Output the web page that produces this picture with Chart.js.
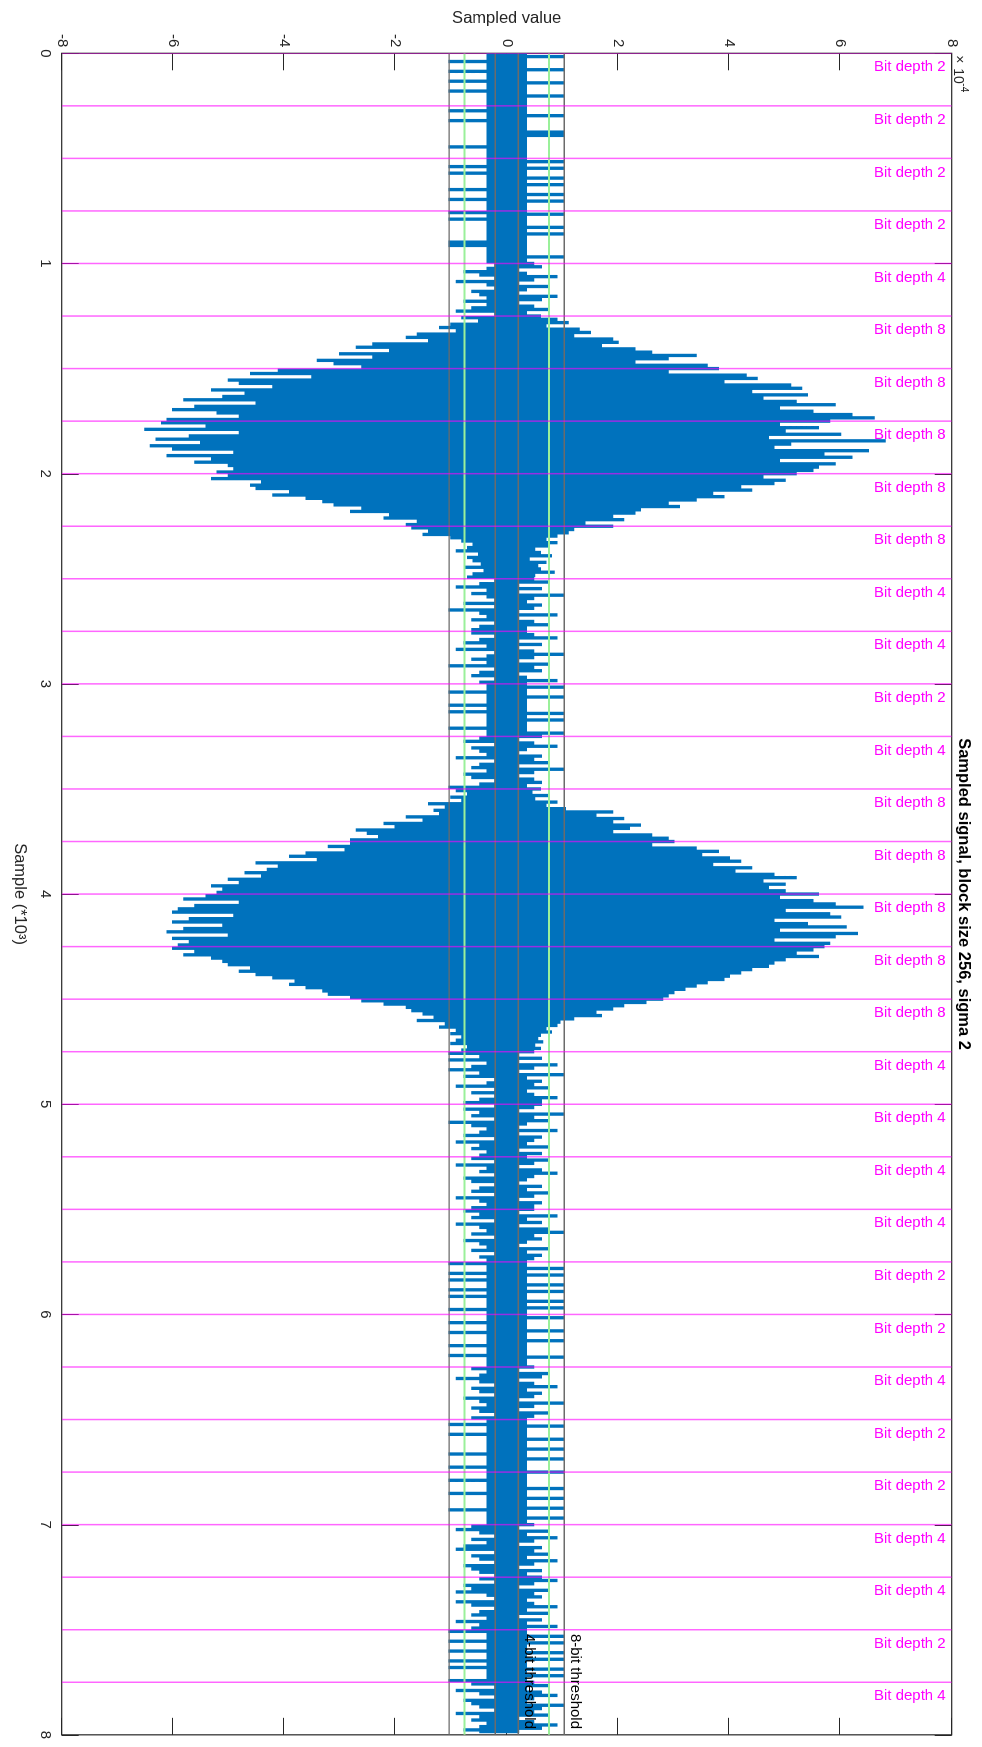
<!DOCTYPE html>
<html>
<head>
<meta charset="utf-8">
<script src="https://cdn.jsdelivr.net/npm/chart.js@4.4.1/dist/chart.umd.min.js"></script>
<style>
  html, body { margin: 0; padding: 0; background: #fff; }
  body { width: 982px; height: 1747px; overflow: hidden; position: relative; }
  /* the figure is laid out landscape and turned a quarter turn clockwise */
  #frame { position: absolute; left: 0; top: 0; width: 1747px; height: 982px;
           transform-origin: 0 0; transform: translateX(982px) rotate(90deg); }
  canvas { display: block; }
</style>
</head>
<body>
<div id="frame"><canvas id="c" width="1747" height="982"></canvas></div>
<script>
const FONT = "'Liberation Sans', Arial, Helvetica, sans-serif";

// block layout of the quantised signal
const blockSize = 250;
const pointsPerBlock = 32;
const blockBitDepth = [2,2,2,2,4,8,8,8,8,8,4,4,2,4,8,8,8,8,8,4,4,4,4,2,2,4,2,2,4,4,2,4];

// axis ticks
const sampleTicks = [0,1000,2000,3000,4000,5000,6000,7000,8000];
const sampleTickLabels = ['0','1','2','3','4','5','6','7','8'];
const valueTicks = [-8,-6,-4,-2,0,2,4,6,8];
const valueTickLabels = ['-8','-6','-4','-2','0','2','4','6','8'];

// reference levels (units of 1e-4)
const threshold8 = 1.035;
const threshold4 = 0.207;
const midLevel = 0.759;

// sampled signal, units of 1e-4, one row per block
const sampleValues = [
  0.35,-0.35,1.03,-0.35,0.35,-1.03,0.35,-0.35, 0.35,-0.35,1.03,-1.03,0.35,-0.35,0.35,-0.35, 0.35,-1.03,1.03,-0.35,0.35,-0.35,0.35,-1.03, 0.35,-0.35,1.03,-0.35,0.35,-0.35,0.35,-0.35,
  0.35,-0.35,0.35,-1.03,0.35,-0.35,1.03,-0.35, 0.35,-1.03,0.35,-0.35,0.35,-0.35,0.35,-0.35, 1.03,-0.35,1.03,-0.35,0.35,-0.35,0.35,-0.35, 0.35,-1.03,0.35,-0.35,0.35,-0.35,0.35,-0.35,
  0.35,-0.35,1.03,-0.35,0.35,-1.03,1.03,-0.35, 0.35,-1.03,0.35,-0.35,1.03,-0.35,0.35,-0.35, 1.03,-0.35,0.35,-1.03,0.35,-0.35,1.03,-0.35, 0.35,-1.03,1.03,-0.35,0.35,-0.35,0.35,-0.35,
  0.35,-1.03,1.03,-0.35,0.35,-1.03,0.35,-0.35, 0.35,-0.35,1.03,-0.35,0.35,-0.35,1.03,-0.35, 0.35,-0.35,0.35,-1.03,0.35,-1.03,0.35,-0.35, 0.35,-0.35,0.35,-0.35,1.03,-0.35,0.35,-0.35,
  0.48,-0.21,0.62,-0.35,0.21,-0.76,0.35,-0.48, 0.9,-0.21,0.48,-0.9,0.21,-0.35,0.76,-0.21, 0.35,-0.62,0.21,-0.48,0.9,-0.35,0.62,-0.76, 0.21,-0.35,0.48,-0.62,0.76,-0.9,0.35,-0.21,
  0.6,-0.8,0.9,-0.5,1.1,-1.0,0.7,-1.2, 1.3,-0.9,1.5,-1.6,1.2,-1.8,1.9,-1.4, 2.0,-2.4,1.7,-2.7,2.3,-2.1,2.6,-3.0, 3.4,-2.4,2.9,-3.4,2.3,-3.1,3.6,-2.6,
  3.8,-4.1,2.9,-4.6,4.3,-3.5,4.5,-5.0, 3.9,-4.8,5.1,-4.2,5.3,-5.3,4.4,-4.7, 5.4,-5.1,4.6,-5.8,5.2,-4.5,5.9,-5.6, 4.9,-6.0,5.5,-5.2,6.2,-4.8,6.6,-6.1,
  5.8,-6.2,4.9,-5.4,5.6,-6.5,5.0,-4.8, 6.0,-5.7,4.7,-6.3,6.8,-5.5,5.1,-6.4, 4.8,-6.0,6.5,-4.9,5.7,-6.1,6.2,-5.3, 4.9,-5.6,5.9,-5.0,5.6,-4.9,5.5,-5.2,
  5.2,-5.0,4.6,-5.3,5.0,-4.4,4.8,-4.6, 4.2,-4.5,4.4,-3.9,3.7,-4.2,3.9,-3.6, 3.4,-3.3,2.9,-3.1,3.1,-2.6,2.4,-2.8, 2.3,-2.1,1.9,-2.2,2.1,-1.6,1.4,-1.8,
  1.9,-1.7,1.2,-1.4,1.1,-1.5,0.9,-1.0, 0.7,-0.8,0.9,-0.6,0.75,-0.7,0.5,-0.9, 0.6,-0.5,0.8,-0.7,0.4,-0.6,0.7,-0.45, 0.55,-0.75,0.6,-0.4,0.85,-0.6,0.5,-0.7,
  0.48,-0.21,0.76,-0.48,0.21,-0.9,0.62,-0.35, 0.21,-0.62,1.03,-0.35,0.48,-0.21,0.35,-0.76, 0.62,-0.21,0.48,-1.03,0.21,-0.48,0.9,-0.35, 0.21,-0.62,0.48,-0.21,0.76,-0.48,0.35,-0.62,
  0.35,-0.62,0.48,-0.21,0.9,-0.48,0.21,-0.76, 0.62,-0.35,0.21,-0.9,0.48,-0.21,1.03,-0.35, 0.48,-0.62,0.21,-0.35,0.76,-1.03,0.48,-0.21, 0.62,-0.48,0.21,-0.62,0.35,-0.21,0.9,-0.48,
  0.35,-0.35,1.03,-0.35,0.35,-1.03,0.35,-0.35, 1.03,-0.35,0.35,-0.35,0.35,-1.03,0.35,-0.35, 0.35,-1.03,1.03,-0.35,0.35,-0.35,1.03,-0.35, 0.35,-0.35,0.35,-1.03,0.35,-0.35,1.03,-0.35,
  0.62,-0.48,0.21,-0.76,0.48,-0.21,0.9,-0.62, 0.35,-0.48,0.21,-0.35,0.62,-0.9,0.48,-0.21, 0.76,-0.48,0.21,-0.62,1.03,-0.35,0.48,-0.76, 0.21,-0.62,0.48,-0.21,0.62,-0.48,0.35,-1.03,
  0.6,-0.9,0.45,-0.7,0.75,-1.0,0.5,-0.8, 0.9,-1.4,0.7,-1.1,1.05,-1.3,1.9,-1.2, 1.6,-1.8,2.1,-1.5,1.9,-2.2,2.4,-2.0, 2.2,-2.7,1.9,-2.5,2.6,-2.3,2.9,-2.8,
  3.0,-2.8,2.6,-3.2,3.4,-2.9,3.8,-3.6, 3.5,-3.9,4.0,-3.4,4.2,-4.5,3.7,-4.1, 4.4,-4.3,4.1,-4.7,4.8,-4.4,5.2,-5.0, 4.6,-4.8,5.0,-5.3,4.7,-5.1,5.0,-5.2,
  5.6,-5.4,4.9,-5.8,5.5,-4.8,5.9,-5.6, 6.4,-5.9,5.0,-6.0,5.8,-4.9,6.0,-5.7, 4.8,-6.0,5.4,-5.1,6.1,-5.8,4.9,-6.1, 6.3,-5.0,5.9,-6.0,4.8,-5.7,5.8,-5.9,
  5.7,-6.0,5.5,-5.6,5.2,-5.8,5.6,-5.3, 5.0,-5.1,4.8,-5.0,4.7,-4.6,4.4,-4.8, 4.2,-4.5,4.0,-4.2,3.9,-3.8,3.6,-3.9, 3.4,-3.6,3.2,-3.3,3.0,-3.2,2.9,-2.8,
  2.8,-2.6,2.5,-2.2,2.1,-1.8,1.9,-1.7, 1.6,-1.5,1.7,-1.3,1.2,-1.6,0.95,-1.1, 0.9,-1.2,0.7,-0.9,0.8,-1.0,0.6,-0.8, 0.55,-0.9,0.64,-1.0,0.5,-0.7,0.6,-0.8,
  0.48,-1.03,0.21,-0.48,0.62,-1.03,0.21,-0.35, 0.9,-0.62,0.48,-1.03,0.21,-0.48,1.03,-0.76, 0.35,-0.21,0.62,-0.35,0.48,-0.9,0.76,-0.21, 0.35,-0.62,0.48,-0.21,0.9,-0.48,0.62,-0.76,
  0.62,-0.21,0.48,-0.76,0.21,-0.48,1.03,-0.62, 0.48,-0.21,0.76,-1.03,0.35,-0.62,0.21,-0.35, 0.9,-0.48,0.21,-0.76,0.62,-0.21,0.48,-0.9, 0.35,-0.48,0.76,-0.62,0.21,-0.35,0.62,-0.48,
  0.35,-0.62,0.76,-0.21,0.48,-0.9,0.21,-0.35, 0.62,-0.48,0.9,-0.21,0.48,-0.76,0.35,-0.62, 0.21,-0.21,0.62,-0.48,0.35,-0.62,0.76,-0.21, 0.48,-0.9,0.21,-0.48,0.62,-0.35,0.48,-0.62,
  0.48,-0.76,0.21,-0.48,0.9,-0.62,0.35,-0.21, 0.62,-0.9,0.21,-0.48,0.76,-0.35,1.03,-0.62, 0.48,-0.21,0.62,-0.76,0.35,-0.48,0.21,-0.35, 0.76,-0.62,0.35,-0.21,0.62,-0.48,0.48,-0.35,
  0.35,-1.03,0.35,-0.35,1.03,-0.35,0.35,-1.03, 1.03,-0.35,0.35,-1.03,0.35,-0.35,1.03,-0.35, 0.35,-1.03,1.03,-0.35,0.35,-1.03,0.35,-0.35, 1.03,-0.35,0.35,-0.35,1.03,-1.03,0.35,-0.35,
  0.35,-0.35,1.03,-0.35,0.35,-1.03,0.35,-0.35, 0.35,-0.35,1.03,-1.03,0.35,-0.35,0.35,-0.35, 1.03,-0.35,0.35,-1.03,0.35,-0.35,0.35,-0.35, 0.35,-1.03,1.03,-0.35,0.35,-0.35,0.35,-0.35,
  0.48,-0.62,0.21,-0.35,0.76,-0.48,0.62,-0.9, 0.21,-0.48,0.48,-0.21,0.9,-0.62,0.35,-0.48, 0.62,-0.21,0.48,-0.76,0.21,-0.48,1.03,-0.35, 0.48,-0.62,0.21,-0.48,0.76,-0.21,0.48,-0.62,
  0.35,-0.35,0.35,-1.03,1.03,-0.35,0.35,-0.35, 0.35,-1.03,0.35,-0.35,1.03,-0.35,0.35,-0.35, 0.35,-0.35,1.03,-0.35,0.35,-1.03,0.35,-0.35, 1.03,-0.35,0.35,-0.35,0.35,-1.03,0.35,-0.35,
  1.03,-0.35,0.35,-0.35,0.35,-1.03,0.35,-0.35, 0.35,-0.35,1.03,-0.35,0.35,-1.03,0.35,-0.35, 1.03,-0.35,0.35,-0.35,0.35,-0.35,1.03,-1.03, 0.35,-0.35,0.35,-0.35,1.03,-0.35,0.35,-0.35,
  0.48,-0.62,0.21,-0.9,0.76,-0.48,0.35,-0.21, 0.9,-0.62,0.48,-0.35,0.21,-0.76,0.62,-0.9, 0.48,-0.21,0.76,-0.62,0.35,-0.48,0.9,-0.21, 0.48,-0.76,0.21,-0.62,0.62,-0.48,0.35,-0.21,
  0.62,-0.48,0.9,-0.21,0.48,-0.76,0.21,-0.62, 0.76,-0.9,0.48,-0.35,0.62,-0.21,0.35,-0.9, 0.48,-0.62,0.9,-0.21,0.35,-0.48,0.76,-0.62, 0.21,-0.35,0.62,-0.9,0.35,-0.48,0.9,-0.62,
  0.35,-1.03,0.35,-0.35,1.03,-0.35,0.35,-1.03, 1.03,-0.35,0.35,-0.35,0.35,-1.03,1.03,-0.35, 0.35,-0.35,1.03,-1.03,0.35,-0.35,0.35,-1.03, 1.03,-0.35,0.35,-0.35,1.03,-0.35,0.35,-1.03,
  0.48,-0.62,0.76,-0.21,0.35,-0.9,0.62,-0.48, 0.9,-0.21,0.48,-0.76,0.35,-0.62,1.03,-0.48, 0.62,-0.21,0.48,-0.9,0.76,-0.48,0.21,-0.62, 0.48,-0.35,0.9,-0.48,0.62,-0.76,0.21,-0.48
];

// ---- datasets built from the arrays above ----
const sampleStep = blockSize / pointsPerBlock;
const signalPoints = sampleValues.map((v, i) => ({ x: i * sampleStep, y: v }));

const xMin = sampleTicks[0], xMax = sampleTicks[sampleTicks.length - 1];
const yMin = valueTicks[0], yMax = valueTicks[valueTicks.length - 1];

const blockLinePoints = [];
blockBitDepth.forEach((d, k) => {
  const s = k * blockSize;
  blockLinePoints.push({ x: s, y: yMin }, { x: s, y: yMax }, { x: s, y: null });
});

function levelPair(t) {
  return [{ x: xMin, y: t }, { x: xMax, y: t }, { x: xMax, y: null }, { x: xMin, y: -t }, { x: xMax, y: -t }];
}

// ---- frame, inward ticks and annotations ----
const TICK_LEN = 17;
const annotate = {
  id: 'annotate',
  beforeDatasetsDraw(chart) {
    const { ctx, chartArea: a, scales: { x, y } } = chart;
    ctx.save();
    ctx.strokeStyle = '#262626';
    ctx.lineWidth = 1;
    ctx.beginPath();
    sampleTicks.forEach(v => {
      const px = Math.round(x.getPixelForValue(v)) + 0.5;
      ctx.moveTo(px, a.bottom); ctx.lineTo(px, a.bottom - TICK_LEN);
      ctx.moveTo(px, a.top); ctx.lineTo(px, a.top + TICK_LEN);
    });
    valueTicks.forEach(v => {
      const py = Math.round(y.getPixelForValue(v)) + 0.5;
      ctx.moveTo(a.left, py); ctx.lineTo(a.left + TICK_LEN, py);
      ctx.moveTo(a.right, py); ctx.lineTo(a.right - TICK_LEN, py);
    });
    ctx.stroke();
    ctx.lineWidth = 1.2;
    ctx.strokeRect(a.left, a.top, a.right - a.left, a.bottom - a.top);
    ctx.restore();
  },
  afterDatasetsDraw(chart) {
    const { ctx, chartArea: a, scales: { x, y } } = chart;
    ctx.save();
    // bit depth of every block
    ctx.fillStyle = '#ff00ff';
    ctx.font = '15px ' + FONT;
    ctx.textAlign = 'right';
    ctx.textBaseline = 'middle';
    blockBitDepth.forEach((d, k) => {
      const px = x.getPixelForValue(k * blockSize);
      ctx.save();
      ctx.translate(px + 14, a.top + 6);
      ctx.rotate(-Math.PI / 2);
      ctx.fillText('Bit depth ' + d, 0, 0);
      ctx.restore();
    });
    // threshold captions
    ctx.fillStyle = '#000';
    ctx.textAlign = 'left';
    const lx = x.getPixelForValue(7520);
    ctx.fillText('8-bit threshold', lx, y.getPixelForValue(threshold8) - 10.5);
    ctx.fillText('4-bit threshold', lx, y.getPixelForValue(threshold4) - 10.5);
    // exponent of the value axis
    ctx.fillStyle = '#262626';
    ctx.textBaseline = 'alphabetic';
    ctx.font = '14px ' + FONT;
    ctx.fillText('\u00d7', a.left + 2, 27);
    ctx.fillText('10', a.left + 15, 28);
    ctx.font = '10px ' + FONT;
    ctx.fillText('-4', a.left + 30, 21);
    ctx.restore();
  }
};

const tickFont = { family: FONT, size: 15 };
const titleFont = { family: FONT, size: 16.5 };

new Chart(document.getElementById('c'), {
  type: 'line',
  data: {
    datasets: [
      { data: blockLinePoints, borderColor: 'rgba(255,0,255,0.6)', borderWidth: 1.5, order: 0 },
      { data: levelPair(threshold4), borderColor: '#6b6b6b', borderWidth: 1.4, order: 1 },
      { data: levelPair(threshold8), borderColor: '#6b6b6b', borderWidth: 1.4, order: 1 },
      { data: levelPair(midLevel), borderColor: '#9af09a', borderWidth: 2, order: 2 },
      { data: signalPoints, borderColor: '#0072BD', borderWidth: 1.7, stepped: 'middle', order: 3 }
    ]
  },
  options: {
    responsive: false,
    animation: false,
    devicePixelRatio: 1,
    spanGaps: false,
    elements: { point: { radius: 0 }, line: { tension: 0, borderCapStyle: 'butt' } },
    layout: { padding: { top: 0, right: 5.3, bottom: 0, left: 0 } },
    plugins: {
      legend: { display: false },
      tooltip: { enabled: false },
      title: {
        display: true,
        text: 'Sampled signal, block size 256, sigma 2',
        fullSize: false,
        color: '#000',
        font: { family: FONT, size: 16.5, weight: 'bold' },
        padding: { top: 9, bottom: 1.5 }
      }
    },
    scales: {
      x: {
        type: 'linear', min: xMin, max: xMax,
        afterBuildTicks: s => { s.ticks = sampleTicks.map(v => ({ value: v })); },
        afterFit: s => { s.height = 61.7; },
        ticks: {
          callback: v => sampleTickLabels[sampleTicks.indexOf(v)],
          font: tickFont, color: '#262626', padding: 8, maxRotation: 0, autoSkip: false
        },
        grid: { display: false, drawTicks: false },
        border: { display: false },
        title: { display: true, text: 'Sample (*10\u00b3)', font: titleFont, color: '#262626',
                 padding: { top: 0, bottom: 10 } }
      },
      y: {
        type: 'linear', min: yMin, max: yMax,
        afterBuildTicks: s => { s.ticks = valueTicks.map(v => ({ value: v })); },
        afterFit: s => { s.width = 53.3; },
        ticks: {
          callback: v => valueTickLabels[valueTicks.indexOf(v)],
          font: tickFont, color: '#262626', padding: 6, autoSkip: false
        },
        grid: { display: false, drawTicks: false },
        border: { display: false },
        title: { display: true, text: 'Sampled value', font: titleFont, color: '#262626',
                 padding: { top: 9, bottom: 0 } }
      }
    }
  },
  plugins: [annotate]
});
</script>
</body>
</html>
